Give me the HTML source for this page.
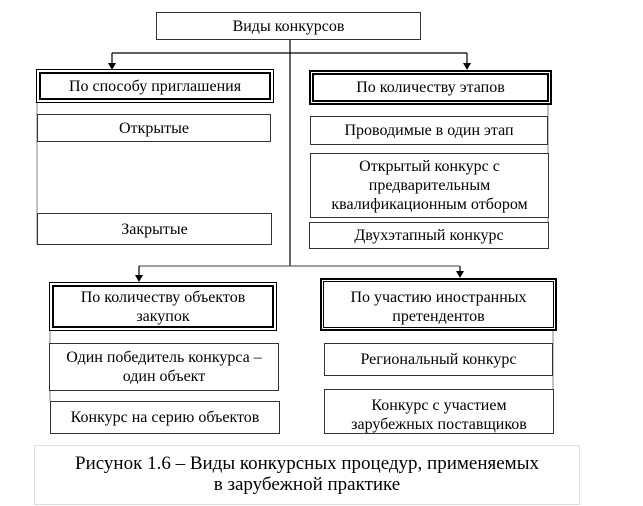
<!DOCTYPE html>
<html><head><meta charset="utf-8"><style>
body{margin:0;width:643px;height:506px;background:#fff;position:relative;overflow:hidden;font-family:"Liberation Serif",serif;color:#000}
.b{position:absolute;box-sizing:border-box;border:1px solid #333;display:flex;align-items:center;justify-content:center;text-align:center;font-size:16px;line-height:19px;background:#fff;white-space:nowrap}
.h{position:absolute;box-sizing:border-box;border:1px solid #000;background:#fff}
.h>div{position:absolute;left:2px;top:2px;right:2px;bottom:2px;border:2px solid #000;display:flex;align-items:center;justify-content:center;text-align:center;font-size:16px;line-height:19px;white-space:nowrap}
</style></head><body>
<svg width="643" height="506" style="position:absolute;left:0;top:0">
<g stroke="#000" stroke-width="1.2" fill="none">
<line x1="290" y1="40" x2="290" y2="266"/>
<line x1="112" y1="53" x2="467" y2="53"/>
<line x1="112" y1="53" x2="112" y2="64"/>
<line x1="467" y1="53" x2="467" y2="64"/>
<line x1="139" y1="266" x2="460" y2="266" stroke="#666"/>
<line x1="139" y1="266" x2="139" y2="276"/>
<line x1="460" y1="266" x2="460" y2="272"/>
<line x1="37" y1="103" x2="37" y2="245" stroke="#999"/>
<line x1="548" y1="105" x2="548" y2="249" stroke="#999"/>
<line x1="50" y1="331" x2="50" y2="401" stroke="#999"/>
<line x1="553" y1="331" x2="553" y2="389" stroke="#999"/>
</g>
<g fill="#000">
<polygon points="108,63 116,63 112,70"/>
<polygon points="463,63 471,63 467,70"/>
<polygon points="135,275 143,275 139,282"/>
<polygon points="456,271 464,271 460,278"/>
</g>
</svg>
<div class="b" style="left:156px;top:12px;width:265px;height:28px">Виды конкурсов</div>
<div class="h" style="left:36px;top:69px;width:238px;height:34px"><div>По способу приглашения</div></div>
<div class="b" style="left:37px;top:114px;width:234px;height:28px">Открытые</div>
<div class="b" style="left:37px;top:213px;width:235px;height:32px">Закрытые</div>
<div class="h" style="left:309px;top:70px;width:243px;height:35px;border-width:2px"><div style="left:1px;top:1px;right:1px;bottom:1px">По количеству этапов</div></div>
<div class="b" style="left:310px;top:116px;width:238px;height:29px">Проводимые в один этап</div>
<div class="b" style="left:310px;top:153px;width:239px;height:65px">Открытый конкурс с<br>предварительным<br>квалификационным отбором</div>
<div class="b" style="left:309px;top:222px;width:240px;height:27px">Двухэтапный конкурс</div>
<div class="h" style="left:49px;top:282px;width:228px;height:49px"><div>По количеству объектов<br>закупок</div></div>
<div class="b" style="left:49px;top:343px;width:230px;height:48px">Один победитель конкурса –<br>один объект</div>
<div class="b" style="left:50px;top:401px;width:230px;height:33px">Конкурс на серию объектов</div>
<div class="h" style="left:320px;top:278px;width:237px;height:53px;border-width:2px"><div style="left:1px;top:1px;right:1px;bottom:1px;border-width:1px;align-items:flex-start;padding-top:6px">По участию иностранных<br>претендентов</div></div>
<div class="b" style="left:324px;top:343px;width:229px;height:33px">Региональный конкурс</div>
<div class="b" style="left:324px;top:389px;width:230px;height:45px;align-items:flex-start;padding-top:6px;overflow:hidden">Конкурс с участием<br>зарубежных поставщиков</div>
<div style="position:absolute;left:34px;top:445px;width:546px;height:60px;box-sizing:border-box;border:1px solid #ddd;text-align:center;font-size:19px;line-height:21px;padding-top:7px;white-space:nowrap">Рисунок 1.6 – Виды конкурсных процедур, применяемых<br>в зарубежной практике</div>
</body></html>
